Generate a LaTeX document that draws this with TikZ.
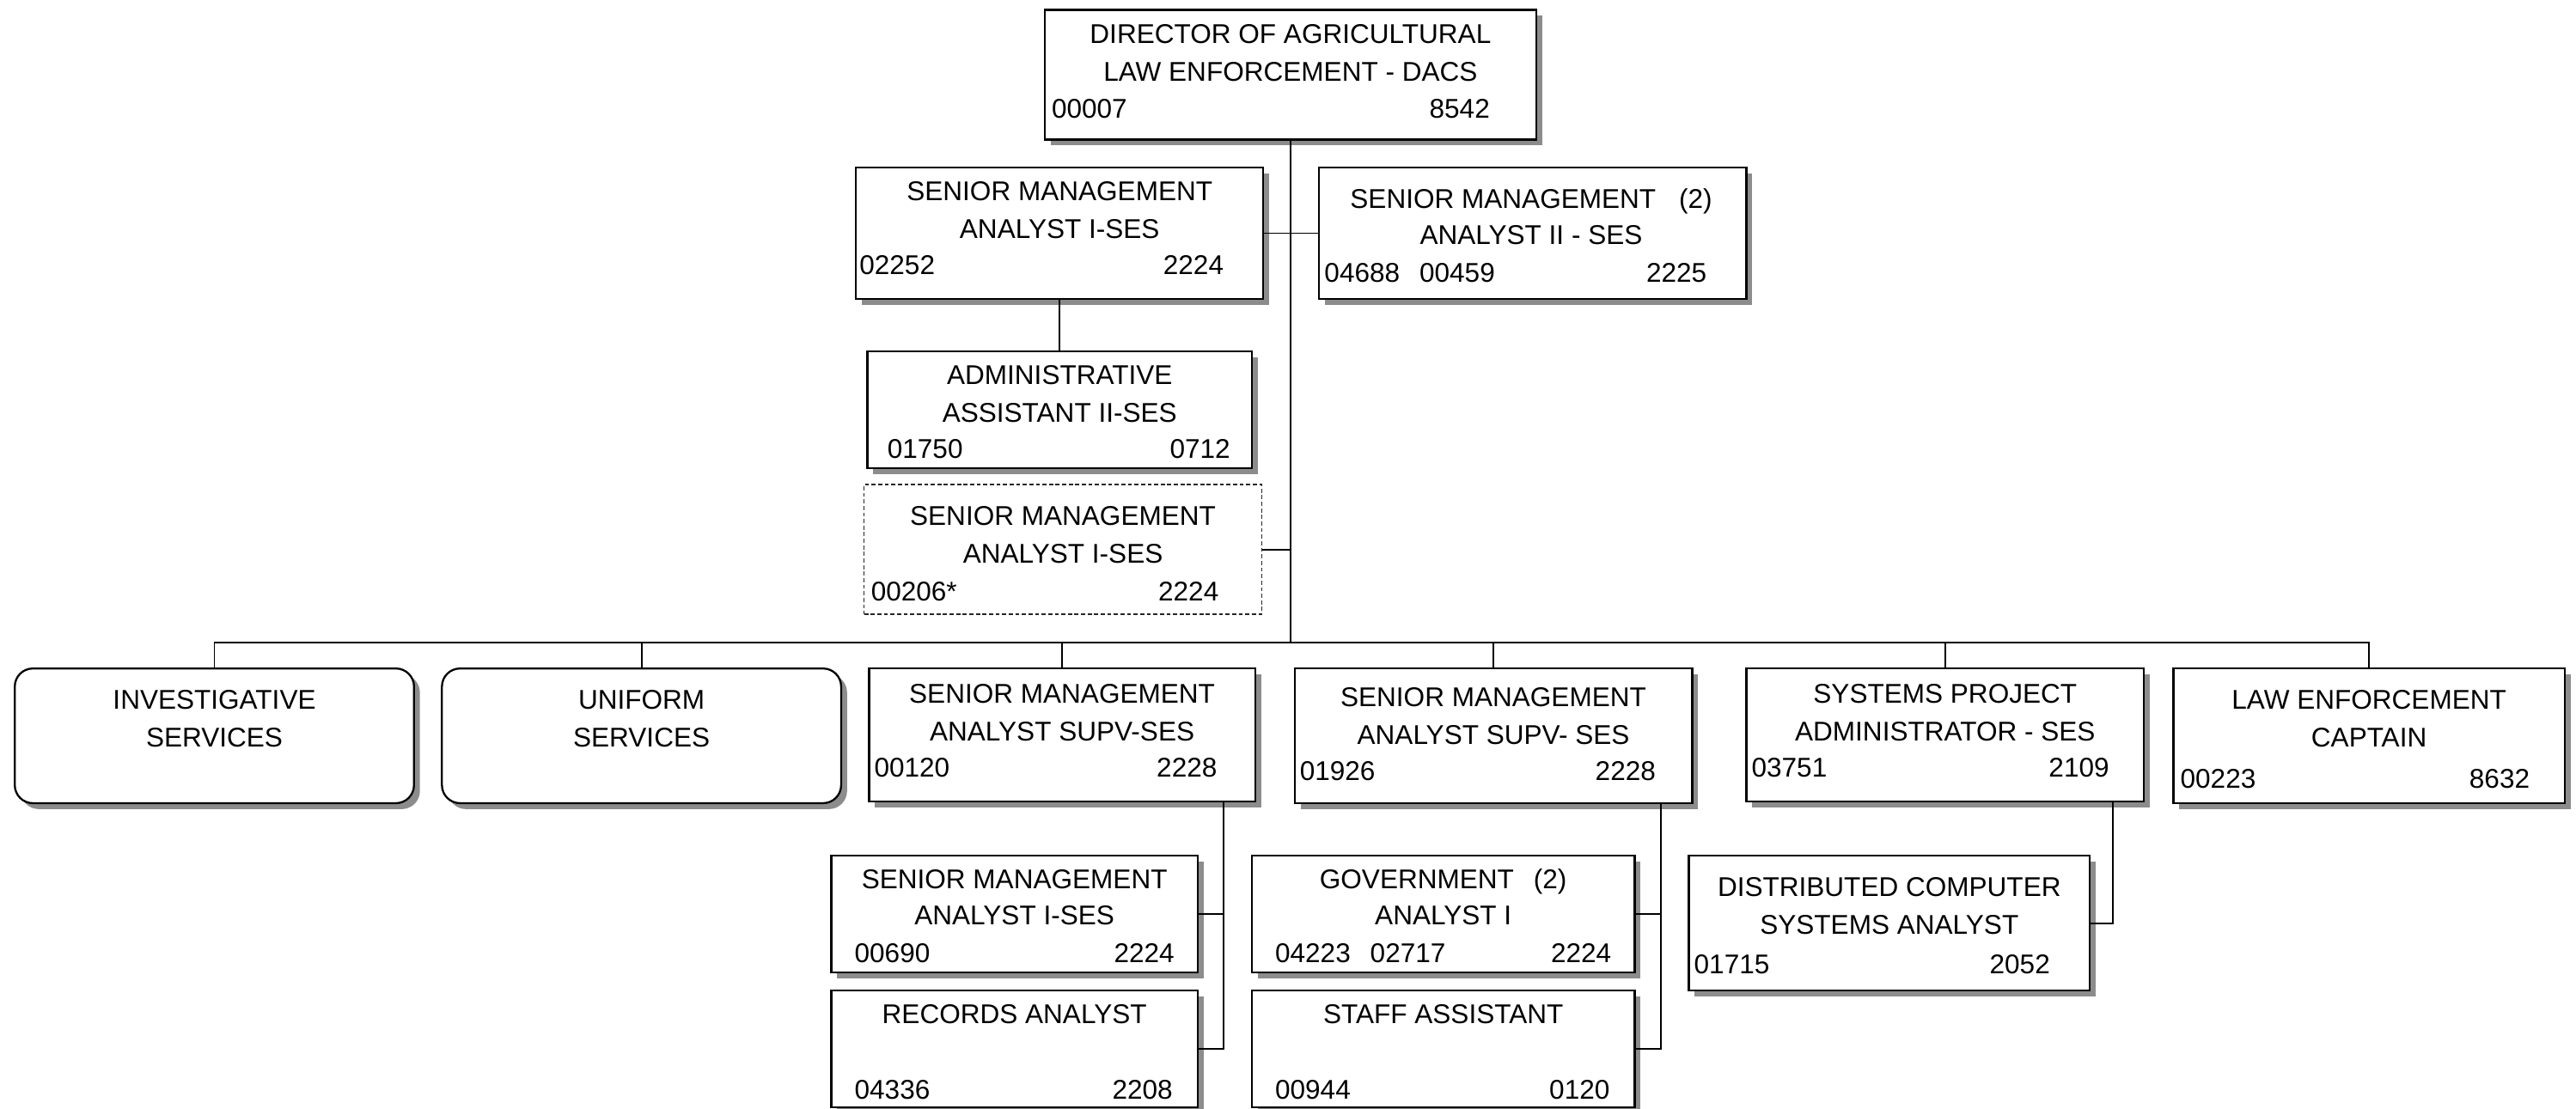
\documentclass[tikz,border=0pt]{standalone}
\usepackage{fontspec}
\setmainfont{Liberation Sans}
\usetikzlibrary{fit,shadows}
\begin{document}
\begin{tikzpicture}[x=1pt,y=-1pt,
  box/.style={draw=black, line width=1.2pt, fill=white, inner sep=0pt, rectangle,
    drop shadow={shadow xshift=3.6pt, shadow yshift=-3.6pt, fill=black!45, opacity=1}},
  unit/.style={box, rounded corners=11pt},
  vacant/.style={draw=black!85, line width=0.8pt, dash pattern=on 2.5pt off 1.5pt,
    fill=white, inner sep=0pt, rectangle},
  lbl/.style={font=\fontsize{16.5}{20}\selectfont, inner sep=0pt, anchor=base},
  code/.style={lbl, anchor=base west},
  grade/.style={lbl, anchor=base east},
  link/.style={line width=1pt}]
\useasboundingbox (0,0) rectangle (1568,675);

% bus level and the x positions of the side drops
\coordinate (busL) at (130.5,391);
\coordinate (j1) at (745,600);
\coordinate (j2) at (1011,600);
\coordinate (j3) at (1286,600);

% ---- boxes ----
\node[box, fit={(636,6) (935,85)}] (dir) {};
\node[box, fit={(521,102) (769,182)}] (sma1) {};
\node[box, fit={(803,102) (1063,182)}] (sma2) {};
\node[box, fit={(528,214) (762,285)}] (adm) {};
\node[vacant, fit={(526,295) (768,374)}] (vac) {};
\node[unit, fit={(9,407) (252,489)}] (inv) {};
\node[unit, fit={(269,407) (512,489)}] (uni) {};
\node[box, fit={(529,407) (764,488)}] (sup1) {};
\node[box, fit={(788,407) (1030,489)}] (sup2) {};
\node[box, fit={(1063,407) (1305,488)}] (sys) {};
\node[box, fit={(1323,407) (1561,489)}] (cap) {};
\node[box, fit={(506,521) (729,592)}] (sma3) {};
\node[box, fit={(506,603) (729,674)}] (rec) {};
\node[box, fit={(762,521) (995,592)}] (gov) {};
\node[box, fit={(762,603) (995,674)}] (staff) {};
\node[box, fit={(1028,521) (1272,603)}] (dcs) {};

% ---- connectors ----
\draw[link] (dir.south) -- (dir.south |- busL);
\draw[link] (sma1.east) -- (sma2.west);
\draw[link] (sma1.south) -- (adm.north);
\draw[link] (vac.east) -- (vac.east -| dir.south);
\draw[link] (inv.north) -- (inv.north |- busL) -- (cap.north |- busL) -- (cap.north);
\draw[link] (uni.north) -- (uni.north |- busL);
\draw[link] (sup1.north) -- (sup1.north |- busL);
\draw[link] (sup2.north) -- (sup2.north |- busL);
\draw[link] (sys.north) -- (sys.north |- busL);
\draw[link] (sup1.south -| j1) |- (rec.east);
\draw[link] (sma3.east) -- (sma3.east -| j1);
\draw[link] (sup2.south -| j2) |- (staff.east);
\draw[link] (gov.east) -- (gov.east -| j2);
\draw[link] (sys.south -| j3) |- (dcs.east);

% ---- texts ----
\node[lbl] (dir1) at (785.5,26.5) {DIRECTOR OF AGRICULTURAL};
\node[lbl] (dir2) at (785.5,49.5) {LAW ENFORCEMENT - DACS};
\node[code] (dirc) at (640,72) {00007};
\node[grade] (dirg) at (907,72) {8542};

\node[lbl] (sma1a) at (645,122) {SENIOR MANAGEMENT};
\node[lbl] (sma1b) at (645,145) {ANALYST I-SES};
\node[code] (sma1c) at (523,167) {02252};
\node[grade] (sma1g) at (745,167) {2224};

\node[lbl] (sma2a) at (932,127) {SENIOR MANAGEMENT\hspace{14pt}(2)};
\node[lbl] (sma2b) at (932,149) {ANALYST II - SES};
\node[code] (sma2c) at (806,172) {04688\hspace{12pt}00459};
\node[grade] (sma2g) at (1039,172) {2225};

\node[lbl] (adma) at (645,234) {ADMINISTRATIVE};
\node[lbl] (admb) at (645,257) {ASSISTANT II-SES};
\node[code] (admc) at (540,279) {01750};
\node[grade] (admg) at (749,279) {0712};

\node[lbl] (vaca) at (647,320) {SENIOR MANAGEMENT};
\node[lbl] (vacb) at (647,343) {ANALYST I-SES};
\node[code] (vacc) at (530,366) {00206*};
\node[grade] (vacg) at (742,366) {2224};

\node[lbl] (inva) at (130.5,432) {INVESTIGATIVE};
\node[lbl] (invb) at (130.5,455) {SERVICES};

\node[lbl] (unia) at (390.5,432) {UNIFORM};
\node[lbl] (unib) at (390.5,455) {SERVICES};

\node[lbl] (sup1a) at (646.5,428) {SENIOR MANAGEMENT};
\node[lbl] (sup1b) at (646.5,451) {ANALYST SUPV-SES};
\node[code] (sup1c) at (532,473) {00120};
\node[grade] (sup1g) at (741,473) {2228};

\node[lbl] (sup2a) at (909,430) {SENIOR MANAGEMENT};
\node[lbl] (sup2b) at (909,453) {ANALYST SUPV- SES};
\node[code] (sup2c) at (791,475) {01926};
\node[grade] (sup2g) at (1008,475) {2228};

\node[lbl] (sysa) at (1184,428) {SYSTEMS PROJECT};
\node[lbl] (sysb) at (1184,451) {ADMINISTRATOR - SES};
\node[code] (sysc) at (1066,473) {03751};
\node[grade] (sysg) at (1284,473) {2109};

\node[lbl] (capa) at (1442,432) {LAW ENFORCEMENT};
\node[lbl] (capb) at (1442,455) {CAPTAIN};
\node[code] (capc) at (1327,480) {00223};
\node[grade] (capg) at (1540,480) {8632};

\node[lbl] (sma3a) at (617.5,541) {SENIOR MANAGEMENT};
\node[lbl] (sma3b) at (617.5,563) {ANALYST I-SES};
\node[code] (sma3c) at (520,586) {00690};
\node[grade] (sma3g) at (715,586) {2224};

\node[lbl] (reca) at (617.5,623) {RECORDS ANALYST};
\node[code] (recc) at (520,669) {04336};
\node[grade] (recg) at (714,669) {2208};

\node[lbl] (gova) at (878.5,541) {GOVERNMENT\hspace{12pt}(2)};
\node[lbl] (govb) at (878.5,563) {ANALYST I};
\node[code] (govc) at (776,586) {04223\hspace{12pt}02717};
\node[grade] (govg) at (981,586) {2224};

\node[lbl] (staffa) at (878.5,623) {STAFF ASSISTANT};
\node[code] (staffc) at (776,669) {00944};
\node[grade] (staffg) at (980,669) {0120};

\node[lbl] (dcsa) at (1150,546) {DISTRIBUTED COMPUTER};
\node[lbl] (dcsb) at (1150,569) {SYSTEMS ANALYST};
\node[code] (dcsc) at (1031,593) {01715};
\node[grade] (dcsg) at (1248,593) {2052};
\end{tikzpicture}
\end{document}
